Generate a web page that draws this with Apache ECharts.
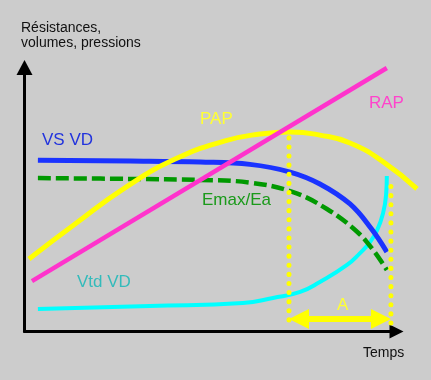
<!DOCTYPE html>
<html><head><meta charset="utf-8">
<script src="https://cdn.jsdelivr.net/npm/echarts@6/dist/echarts.min.js"></script>
<style>html,body{margin:0;padding:0;background:#cccccc}#c{width:431px;height:380px}</style>
</head><body><div id="c"></div>
<script>
// Schematic curves, time (0-100) vs value (0-100)
const papData = [[1.2,27.5],[13.6,40.7],[27.0,54.4],[40.5,65.3],[53.9,72.2],[63.3,74.8],[71.4,75.6],[79.4,74.4],[87.5,71.4],[96.9,63.8],[105.5,54.0]];
const rapData = [[2.0,19.1],[97.4,99.8]];
const vsvdData = [[3.6,64.9],[28.4,64.6],[47.2,64.2],[60.6,63.3],[71.4,60.4],[79.4,55.9],[87.5,48.3],[93.3,38.8],[97.4,30.1]];
const emaxData = [[3.6,58.1],[28.4,57.8],[47.2,57.4],[60.6,56.4],[72.2,52.8],[81.3,46.4],[89.4,37.8],[93.7,30.9],[97.4,23.3]];
const vtdData = [[3.6,8.5],[33.7,9.7],[58.7,10.8],[66.8,12.7],[74.1,15.0],[79.4,18.75],[86.7,25.2],[90.2,29.7],[92.9,33.9],[94.8,38.4],[96.4,44.9],[97.2,51.7],[97.4,58.9]];
const dotLeft = [[71.1,4.4],[71.1,76.3]];
const dotRight = [[98.5,3.2],[98.5,56.2]];
const spanA = {from:71.1, to:98.5, y:4.7};
const labels = {x:'Temps', pap:'PAP', rap:'RAP', vs:'VS VD', emax:'Emax/Ea', vtd:'Vtd VD', a:'A'};

const FONT = 'Liberation Sans, Arial, sans-serif';
const chart = echarts.init(document.getElementById('c'));
const GL = 24.5, GR = 34.5, GT = 67.5, GB = 48.5, W = 431, H = 380;
const pxPerUnitX = (W - GL - GR)/100;
const arrowOff = 10/pxPerUnitX;
// data grid: same origin & scale as the visible axes, but wider so curves can pass the arrow tip
const dataMaxX = (W - GL)/pxPerUnitX;

function curve(data, color, width, extra){
  return Object.assign({type:'line', xAxisIndex:1, yAxisIndex:1, data:data, symbol:'none', showSymbol:false, smooth:0.4, clip:false, silent:true,
    lineStyle:{color:color, width:width}}, extra||{});
}
function txt(x,y,text,color,size){
  return {type:'text', x:x, y:y, silent:true, style:{text:text, fill:color, font:size+'px '+FONT, verticalAlign:'middle', align:'left'}};
}
const hidden = {axisLine:{show:false}, axisTick:{show:false}, axisLabel:{show:false}, splitLine:{show:false}};

chart.setOption({
  backgroundColor:'#cccccc',
  animation:false,
  grid:[{left:GL, right:GR, top:GT, bottom:GB},{left:GL, right:0, top:GT, bottom:GB}],
  xAxis:[
    {type:'value', gridIndex:0, min:0, max:100, axisLine:{show:true, onZero:false, lineStyle:{color:'#000', width:3}, symbol:['none','triangle'], symbolSize:[14,14]}, axisTick:{show:false}, axisLabel:{show:false}, splitLine:{show:false}},
    Object.assign({type:'value', gridIndex:1, min:0, max:dataMaxX}, hidden)
  ],
  yAxis:[
    {type:'value', gridIndex:0, min:0, max:100, axisLine:{show:true, onZero:false, lineStyle:{color:'#000', width:3}, symbol:['none','triangle'], symbolSize:[16,15]}, axisTick:{show:false}, axisLabel:{show:false}, splitLine:{show:false}},
    Object.assign({type:'value', gridIndex:1, min:0, max:100}, hidden)
  ],
  series:[
    curve(vtdData, '#00ffff', 4, {smooth:0.5}),
    curve(vsvdData, '#1a33ff', 5),
    curve(emaxData, '#009900', 4.5, {lineStyle:{color:'#009900', width:4.5, type:[13,5]}}),
    curve(papData, '#ffff00', 5, {smooth:0.5}),
    curve(rapData, '#ff33cc', 4.5, {smooth:false}),
    curve(dotLeft, '#ffff00', 5, {smooth:false, lineStyle:{color:'#ffff00', width:5, type:[0.1,9], cap:'round'}}),
    curve(dotRight, '#ffff00', 5, {smooth:false, lineStyle:{color:'#ffff00', width:5, type:[0.1,9], cap:'round'},
      markLine:{silent:true, symbol:['triangle','triangle'], symbolSize:[20,20], label:{show:false},
        lineStyle:{color:'#ffff00', width:6, type:'solid'},
        data:[[{coord:[spanA.from+arrowOff, spanA.y]},{coord:[spanA.to-arrowOff, spanA.y]}]]}})
  ],
  graphic:[
    txt(21,28,'Résistances,','#111',14),
    txt(21,43,'volumes, pressions','#111',14),
    txt(363,353,labels.x,'#111',14),
    txt(42,140,labels.vs,'#2233dd',17),
    txt(200,119,labels.pap,'#ffff33',17),
    txt(369,103.5,labels.rap,'#ff44cc',17),
    txt(202,200.5,labels.emax,'#1a9a1a',17),
    txt(77,282,labels.vtd,'#33bbbb',17),
    txt(337,305,labels.a,'#ffff33',17)
  ]
});
</script></body></html>
